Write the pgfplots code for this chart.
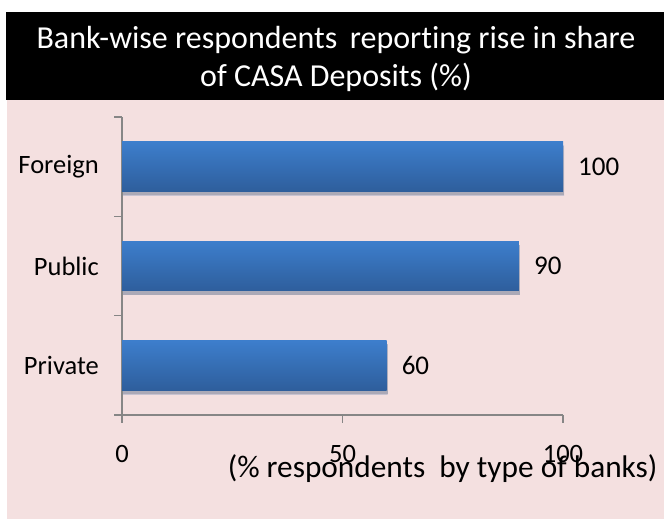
\documentclass[border=0pt]{standalone}
\usepackage{pgfplots}
\pgfplotsset{compat=1.18}
\usepackage{fontspec}
\setmainfont{Carlito}[Ligatures=NoCommon]
\usetikzlibrary{shadows}
\definecolor{pinkbg}{HTML}{F4E0E0}
\definecolor{axgray}{HTML}{868686}
\definecolor{bartop}{HTML}{3D7ECC}
\definecolor{barbot}{HTML}{2E5E9C}
\pgfplotsset{mybar/.style={draw=none, top color=bartop, bottom color=barbot,
  drop shadow={shadow xshift=1bp, shadow yshift=-4bp, opacity=0.22, fill=black!70}}}
\begin{document}
\begin{tikzpicture}[x=1bp,y=1bp]
\useasboundingbox (0,0) rectangle (664,519);
\fill[white] (0,0) rectangle (664,519);
\fill[black] (6,419) rectangle (664,507);
\fill[pinkbg] (7,0) rectangle (664,419);
\node[align=center, text=white, font=\fontsize{32bp}{38bp}\selectfont] at (336,460)
  {Bank-wise respondents\ \,reporting\ rise in share\\of CASA Deposits (\%)};
\begin{axis}[
  at={(122bp,104bp)}, anchor=south west,
  width=441bp, height=298bp, scale only axis,
  xbar, bar shift=0pt, xmin=0, xmax=100, ymin=-0.5, ymax=2.5,
  bar width=0.5,
  axis lines*=left,
  axis line style={draw=axgray, line width=1.5bp},
  xtick={0,50,100},
  ytick={0,1,2}, yticklabels={Private,Public,Foreign},
  minor ytick={-0.5,0.5,1.5,2.5},
  tick align=outside,
  major tick length=8bp, minor tick length=8bp,
  every tick/.style={draw=axgray, line width=1.5bp},
  major y tick style={draw=none},
  /pgf/number format/assume math mode=true,
  xticklabel style={font=\fontsize{26.5bp}{30bp}\selectfont, anchor=base, inner sep=0pt, yshift=-40bp},
  yticklabel style={font=\fontsize{26.5bp}{30bp}\selectfont, anchor=east, inner sep=0pt, xshift=-15bp},
  xlabel={(\% respondents\ \ by type of banks)},
  xlabel style={at={(axis description cs:0.727,0)}, anchor=center, yshift=-54bp, inner sep=0pt,
    font=\fontsize{31.3bp}{36bp}\selectfont},
  nodes near coords,
  every node near coord/.append style={font=\fontsize{27bp}{30bp}\selectfont, text=black,
    anchor=west, xshift=15bp, inner sep=0pt},
  clip=false,
]
\addplot[mybar] coordinates {(60,0)};
\addplot[mybar] coordinates {(90,1)};
\addplot[mybar] coordinates {(100,2)};
\end{axis}
\end{tikzpicture}
\end{document}
